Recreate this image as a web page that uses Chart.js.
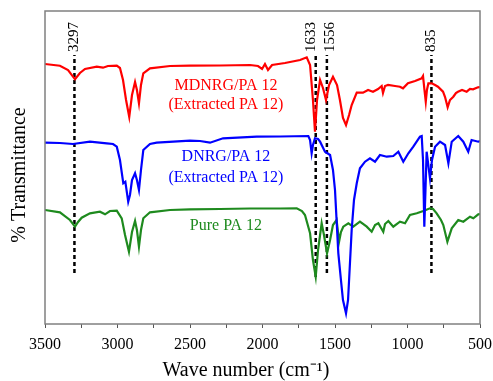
<!DOCTYPE html>
<html>
<head>
<meta charset="utf-8">
<script src="https://cdn.jsdelivr.net/npm/chart.js@4.4.0/dist/chart.umd.min.js"></script>
<style>
  html, body { margin: 0; padding: 0; background: #fff; }
</style>
</head>
<body>
<canvas id="ftir" width="493" height="381"></canvas>
<script>
// FTIR spectra, wave number (cm-1) vs relative transmittance (arbitrary, offset per curve)
var redWave = [3500, 3397, 3341, 3293, 3259, 3224, 3143, 3100, 3066, 3005, 2983, 2962, 2941, 2919, 2900, 2879, 2866, 2852, 2838, 2822, 2776, 2638, 2500, 2293, 2086, 2031, 2003, 1983, 1962, 1934, 1845, 1741, 1695, 1672, 1652, 1638, 1624, 1603, 1583, 1562, 1541, 1514, 1486, 1466, 1445, 1424, 1403, 1385, 1350, 1307, 1272, 1238, 1203, 1178, 1169, 1155, 1134, 1086, 1052, 1031, 997, 948, 902, 893, 883, 874, 866, 856, 833, 810, 790, 755, 741, 723, 707, 684, 666, 652, 624, 592, 569, 548, 514, 500];
var redT = [260, 258.3, 254, 244.7, 251, 255, 257.3, 256.3, 258, 258.3, 256, 244, 224, 207, 229, 242, 234, 220.7, 239, 250.7, 255.7, 258, 258.3, 258.5, 259, 258, 255, 260, 254, 259, 261, 264, 266.7, 259, 224, 192.3, 224, 244, 236, 224, 239, 247.3, 239, 224, 206, 199, 209, 219, 231.3, 231.3, 234, 232.3, 235, 238, 231, 238, 239, 238, 237.3, 235.7, 240.7, 243, 245.7, 248, 234, 222.3, 234, 240.7, 240.7, 239, 237.3, 232.3, 227, 216.7, 224, 227.3, 231, 232.3, 234, 232.3, 235, 234.7, 236.7, 237];

var blueWave = [3500, 3397, 3307, 3190, 3074, 3031, 3005, 2983, 2960, 2946, 2926, 2914, 2900, 2879, 2866, 2852, 2838, 2822, 2776, 2730, 2615, 2500, 2431, 2362, 2272, 2040, 1879, 1684, 1672, 1661, 1652, 1638, 1617, 1603, 1569, 1534, 1514, 1500, 1477, 1459, 1445, 1424, 1410, 1385, 1369, 1350, 1328, 1293, 1259, 1224, 1190, 1143, 1098, 1063, 1029, 994, 960, 914, 902, 893, 884, 876, 868, 845, 831, 810, 776, 741, 718, 695, 650, 615, 581, 558, 512, 500];
var blueT = [181.3, 181, 180, 182.3, 180.7, 180, 177.3, 164, 140.7, 142.3, 122.3, 129, 144, 150.7, 144, 134, 154, 174, 180, 181.3, 182.3, 183.3, 183, 181.3, 185.7, 187.3, 187.5, 188, 184, 170.7, 179, 185.7, 185, 182.3, 172.3, 169, 154, 134, 70.7, 44, 24, 10.7, 24, 94, 124, 140.7, 155.7, 162.3, 165.7, 162.3, 169, 167.3, 168, 172.3, 162.3, 170.7, 177.3, 187.3, 188, 164, 97.3, 134, 172.3, 145.7, 164, 177.3, 182.3, 179, 160.7, 182.3, 188, 182.3, 172.3, 184, 182.3, 183];

var greenWave = [3500, 3397, 3328, 3293, 3272, 3247, 3190, 3121, 3086, 3052, 3005, 2971, 2948, 2921, 2900, 2879, 2866, 2852, 2838, 2822, 2776, 2638, 2500, 2293, 2086, 1879, 1764, 1728, 1707, 1672, 1652, 1633, 1617, 1592, 1576, 1555, 1534, 1514, 1489, 1472, 1459, 1443, 1408, 1374, 1328, 1281, 1247, 1224, 1201, 1167, 1155, 1132, 1098, 1052, 1017, 983, 936, 891, 845, 824, 799, 769, 753, 725, 695, 650, 615, 569, 546, 512, 500];
var greenT = [114, 111.7, 104, 97.3, 102, 106.3, 110.7, 112.3, 109.7, 113, 113.3, 105.7, 89, 72.3, 92, 103, 94, 77.3, 94, 105.7, 111.7, 114, 114.7, 115, 115.5, 115.5, 115.7, 113, 109, 90.7, 64, 47.3, 74, 100.7, 89, 70.7, 84, 99, 104, 82.3, 92, 97.3, 100.7, 97.3, 102.3, 97.3, 92.3, 99, 100.7, 92.3, 100, 103, 97.3, 102.3, 100.7, 109, 110.7, 113, 115.7, 115, 110.7, 104, 99, 82.3, 95.7, 104, 102.3, 107.3, 105.7, 109.7, 110];

// marked peaks
var peakWave = [3297, 1633, 1556, 835];
var peakLabels = ['3297', '1633', '1556', '835'];
var peakBottom = [51, 47, 51, 51];
var peakTop = 269;

var serif = '"Liberation Serif", "Times New Roman", serif';
var labelShift = [0, -5, 3, 0]; // nudge close peak labels apart

function pts(xs, ys) {
  return xs.map(function (x, i) { return { x: x, y: ys[i] }; });
}

var datasets = [
  { data: pts(redWave, redT), borderColor: '#ff0000' },
  { data: pts(blueWave, blueT), borderColor: '#0000ff' },
  { data: pts(greenWave, greenT), borderColor: '#1e8a1e' }
];
datasets.forEach(function (d) {
  d.borderWidth = 2.2;
  d.pointRadius = 0;
  d.tension = 0;
});
peakWave.forEach(function (w, i) {
  datasets.push({
    data: [{ x: w, y: peakBottom[i] }, { x: w, y: peakTop }],
    borderColor: '#000',
    borderWidth: 2.5,
    borderDash: [4, 3],
    pointRadius: 0
  });
});

var annot = {
  id: 'annot',
  afterDraw: function (chart) {
    var ctx = chart.ctx, xs = chart.scales.x, ys = chart.scales.y, a = chart.chartArea;
    ctx.save();
    // frame
    ctx.strokeStyle = '#808080';
    ctx.lineWidth = 1.5;
    ctx.strokeRect(a.left, a.top, a.right - a.left, a.bottom - a.top);

    // peak labels
    ctx.fillStyle = '#000';
    ctx.font = '15px ' + serif;
    ctx.textAlign = 'left';
    ctx.textBaseline = 'middle';
    peakWave.forEach(function (w, i) {
      ctx.save();
      ctx.translate(xs.getPixelForValue(w) + labelShift[i], ys.getPixelForValue(peakTop) - 3);
      ctx.rotate(-Math.PI / 2);
      ctx.fillText(peakLabels[i], 0, 0);
      ctx.restore();
    });

    // curve names
    ctx.font = '16px ' + serif;
    ctx.textAlign = 'center';
    var cx = xs.getPixelForValue(2252);
    ctx.fillStyle = '#ff0000';
    ctx.fillText('MDNRG/PA 12', cx, ys.getPixelForValue(238));
    ctx.fillText('(Extracted PA 12)', cx, ys.getPixelForValue(219));
    ctx.fillStyle = '#0000ff';
    ctx.fillText('DNRG/PA 12', cx, ys.getPixelForValue(167));
    ctx.fillText('(Extracted PA 12)', cx, ys.getPixelForValue(146));
    ctx.fillStyle = '#1e8a1e';
    ctx.fillText('Pure PA 12', cx, ys.getPixelForValue(98));

    // axis titles
    ctx.fillStyle = '#000';
    ctx.font = '20px ' + serif;
    ctx.fillText('Wave number (cm\u207B\u00B9)', 246, 371);
    ctx.save();
    ctx.translate(20, 175);
    ctx.rotate(-Math.PI / 2);
    ctx.fillText('% Transmittance', 0, 0);
    ctx.restore();
    ctx.restore();
  }
};

new Chart(document.getElementById('ftir'), {
  type: 'line',
  data: { datasets: datasets },
  options: {
    responsive: false,
    animation: false,
    layout: { padding: { top: 11, right: 13 } },
    plugins: { legend: { display: false }, tooltip: { enabled: false } },
    scales: {
      x: {
        type: 'linear',
        reverse: true,
        min: 500,
        max: 3500,
        border: { display: false },
        grid: { drawOnChartArea: false, drawTicks: true, tickLength: 4, color: '#555' },
        ticks: {
          stepSize: 250,
          padding: 7,
          maxRotation: 0,
          color: '#000',
          font: { family: serif, size: 16 },
          callback: function (v) { return v % 500 === 0 ? v : ''; }
        },
        afterFit: function (s) {
          s.height = 57;
          s.paddingLeft = 0;
          s.paddingRight = 0;
        }
      },
      y: {
        min: 0,
        max: 313,
        border: { display: false },
        grid: { display: false },
        ticks: { display: false },
        afterFit: function (s) { s.width = 45; }
      }
    }
  },
  plugins: [annot]
});
</script>
</body>
</html>
